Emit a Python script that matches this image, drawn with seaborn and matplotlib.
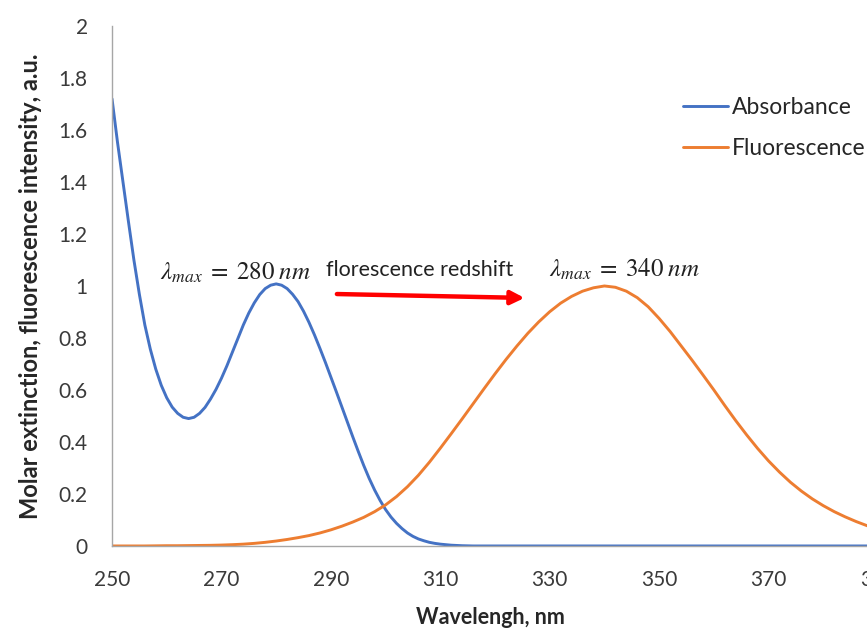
import pandas as pd
import seaborn as sns
import matplotlib.pyplot as plt

# absorbance, 1 nm steps
abs_wavelength = list(range(250, 391))
absorbance = [
    1.72, 1.553, 1.40, 1.248, 1.10, 0.968, 0.85, 0.757, 0.68, 0.618,
    0.57, 0.534, 0.51, 0.495, 0.49, 0.495, 0.51, 0.533, 0.565, 0.602,
    0.645, 0.693, 0.745, 0.798, 0.85, 0.896, 0.935, 0.967, 0.99, 1.003,
    1.008, 1.003, 0.99, 0.968, 0.94, 0.903, 0.86, 0.812, 0.76, 0.706,
    0.65, 0.593, 0.535, 0.477, 0.42, 0.364, 0.31, 0.26, 0.215, 0.175,
    0.14, 0.111, 0.087, 0.067, 0.05, 0.037, 0.027, 0.02, 0.014, 0.01,
    0.007, 0.005, 0.003, 0.002, 0.001, 0.0005,
] + [0.0] * 75

# fluorescence, 2 nm steps
fl_wavelength = list(range(250, 392, 2))
fluorescence = [
    0.0, 0.0, 0.0, 0.0, 0.0005, 0.001, 0.001, 0.0015, 0.002, 0.0025,
    0.0035, 0.005, 0.007, 0.010, 0.014, 0.019, 0.025, 0.032, 0.040, 0.050,
    0.062, 0.076, 0.092, 0.110, 0.132, 0.158, 0.190, 0.228, 0.272, 0.322,
    0.376, 0.432, 0.489, 0.547, 0.605, 0.662, 0.717, 0.769, 0.818, 0.862,
    0.901, 0.934, 0.960, 0.980, 0.993, 1.000, 0.995, 0.980, 0.955, 0.920,
    0.875, 0.825, 0.770, 0.715, 0.658, 0.600, 0.540, 0.482, 0.427, 0.375,
    0.327, 0.284, 0.245, 0.211, 0.181, 0.155, 0.132, 0.112, 0.094, 0.078,
    0.064,
]
series_names = ["Absorbance", "Fluorescence"]
series_colors = ["#4472C4", "#ED7D31"]
x_ticks = list(range(250, 400, 20))
y_ticks = [0, 0.2, 0.4, 0.6, 0.8, 1, 1.2, 1.4, 1.6, 1.8, 2]

df = pd.concat([
    pd.DataFrame({"Wavelength": abs_wavelength, "Value": absorbance, "Series": series_names[0]}),
    pd.DataFrame({"Wavelength": fl_wavelength, "Value": fluorescence, "Series": series_names[1]}),
])

sns.set_style("white")
plt.rcParams["font.family"] = ["Lato", "DejaVu Sans"]
plt.rcParams["mathtext.fontset"] = "stix"

fig = plt.figure(figsize=(8.67, 6.29), dpi=100)
# the reference is cropped on the right, so the axes run past the figure edge
ax = fig.add_axes([0.1292, 0.132, 0.8835, 0.8267])

sns.lineplot(data=df, x="Wavelength", y="Value", hue="Series",
             palette=series_colors, linewidth=2.1, ax=ax, legend=False)
for line in ax.lines:
    line.set_solid_joinstyle("round")

ax.set_xlim(250, 390)
ax.set_ylim(0, 2)
ax.set_xticks(x_ticks)
ax.set_yticks(y_ticks)
ax.set_yticklabels([f"{v:g}" for v in y_ticks])

for side in ["top", "right"]:
    ax.spines[side].set_visible(False)
for side in ["left", "bottom"]:
    ax.spines[side].set_color("#A6A6A6")
    ax.spines[side].set_linewidth(1.0)
ax.tick_params(axis="both", direction="out", length=6.5, width=1,
               color="#A6A6A6", labelsize=15, labelcolor="#3a3a3a", pad=11)

ax.set_xlabel("Wavelengh, nm", fontsize=15.5, fontweight="bold", va="baseline")
ax.xaxis.set_label_coords(0.4935, -0.15)
ax.set_ylabel("Molar extinction, fluorescence intensity, a.u.",
              fontsize=17, fontweight="bold", va="center")
ax.yaxis.set_label_coords(-0.107, 0.5)

ax.text(272.5, 1.025, r"$\lambda_{max}\;=\;280\;nm$", fontsize=18,
        ha="center", va="baseline", color="#222222")
ax.text(343.7, 1.035, r"$\lambda_{max}\;=\;340\;nm$", fontsize=18,
        ha="center", va="baseline", color="#222222")
ax.text(306.3, 1.04, "florescence redshift", fontsize=15.5,
        ha="center", va="baseline", color="#222222")
ax.annotate("", xy=(325.4, 0.954), xytext=(291.1, 0.969),
            arrowprops=dict(arrowstyle="-|>", color="red", lw=3.2,
                            mutation_scale=20, shrinkA=0, shrinkB=0))

handles = [plt.Line2D([], [], color=c, lw=2.1) for c in series_colors]
fig.legend(handles, series_names, loc="upper left",
           bbox_to_anchor=(0.7878, 0.845), frameon=False, fontsize=16.5,
           handlelength=1.95, handletextpad=0.17, labelspacing=0.85,
           borderpad=0, borderaxespad=0)

fig.savefig("out.png", dpi=100)
plt.close(fig)
